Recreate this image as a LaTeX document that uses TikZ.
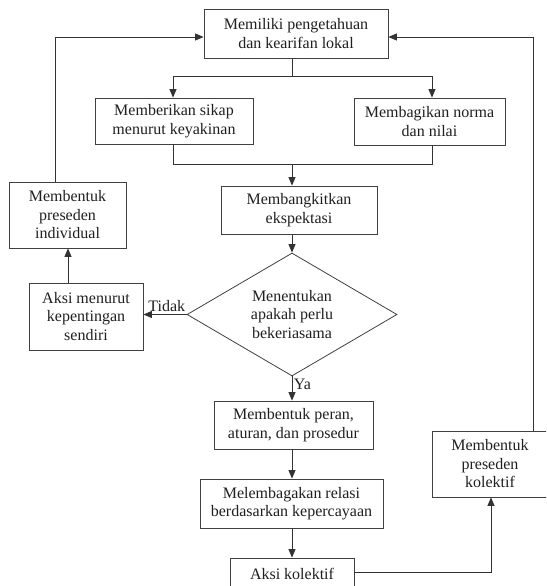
\documentclass[tikz,border=0pt]{standalone}
\usepackage{fontspec}
\setmainfont{Liberation Serif}
\usetikzlibrary{shapes.geometric,arrows.meta,calc}
\begin{document}
\begin{tikzpicture}[x=1pt,y=-1pt,
  every node/.style={text=black!88, font=\fontsize{16}{18.5}\selectfont},
  box/.style={draw=black!75, line width=0.8pt, rectangle, align=center, inner sep=0pt},
  decision/.style={draw=black!75, line width=0.8pt, diamond, align=center, inner sep=0pt,
     minimum width=210pt, minimum height=123pt, shape aspect=1.7},
  conn/.style={draw=black!80, line width=0.8pt},
  arr/.style={conn, -{Triangle[length=8.5pt,width=7pt]}},
  lbl/.style={inner sep=2.5pt}]
\useasboundingbox (0,0) rectangle (546,586);
\clip (0,0) rectangle (546,586);

\node[box, minimum width=184pt, minimum height=49pt] (top) at (296,33.5) {Memiliki pengetahuan\\dan kearifan lokal};
\node[box, minimum width=158pt, minimum height=46pt] (sikap) at (174,121) {Memberikan sikap\\menurut keyakinan};
\node[box, minimum width=151pt, minimum height=47pt] (norma) at (429.5,121.5) {Membagikan norma\\dan nilai};
\node[box, minimum width=156pt, minimum height=48pt] (ekspek) at (299,210) {Membangkitkan\\ekspektasi};
\node[decision] (dia) at (292,314.5) {Menentukan\\apakah perlu\\bekeriasama};
\node[box, minimum width=117pt, minimum height=66pt] (indiv) at (67.5,215) {Membentuk\\preseden\\individual};
\node[box, minimum width=114pt, minimum height=67pt] (self) at (86,316.5) {Aksi menurut\\kepentingan\\sendiri};
\node[box, minimum width=159pt, minimum height=48pt] (peran) at (293.5,425) {Membentuk peran,\\aturan, dan prosedur};
\node[box, minimum width=183pt, minimum height=49pt] (lembaga) at (291.5,503.5) {Melembagakan relasi\\berdasarkan kepercayaan};
\node[box, minimum width=124pt, minimum height=32pt] (aksikol) at (292,574) {Aksi kolektif};
\node[box, minimum width=116pt, minimum height=66pt] (kolektif) at (490,464) {Membentuk\\preseden\\kolektif};

\coordinate (j1) at (292,76);
\coordinate (j2) at (292,164);
\coordinate (lx) at (55,37);
\coordinate (rx) at (533,37);
\coordinate (kx) at (491,572);

% top -> two boxes
\draw[conn] (top.south -| j1) -- (j1);
\draw[arr] (j1) -| ([xshift=-1pt]sikap.north);
\draw[arr] (j1) -| ([xshift=2.5pt]norma.north);
% two boxes -> ekspektasi
\draw[conn] ([xshift=-1pt]sikap.south) |- (j2);
\draw[conn] ([xshift=2.5pt]norma.south) |- (j2);
\draw[arr] (j2) -- (ekspek.north -| j2);
\draw[arr] (ekspek.south -| j2) -- (dia.north);
% decision
\draw[arr] (dia.west) -- node[lbl, pos=0, anchor=south east, xshift=1.5pt]{Tidak} (self.east |- dia.west);
\draw[arr] (dia.south) -- node[lbl, pos=0, anchor=north west, xshift=-1pt]{Ya} (peran.north -| dia.south);
\draw[arr] (peran.south -| dia.south) -- (lembaga.north -| dia.south);
\draw[arr] (lembaga.south -| dia.south) -- (aksikol.north);
% individual loop
\draw[arr] (self.north -| 68,0) -- (indiv.south -| 68,0);
\draw[arr] (indiv.north -| lx) -- (lx) -- (top.west |- lx);
% collective loop
\draw[arr] (aksikol.east |- kx) -- (kx) -- (kolektif.south -| kx);
\draw[arr] (kolektif.north -| rx) -- (rx) -- (top.east |- rx);
\end{tikzpicture}
\end{document}
